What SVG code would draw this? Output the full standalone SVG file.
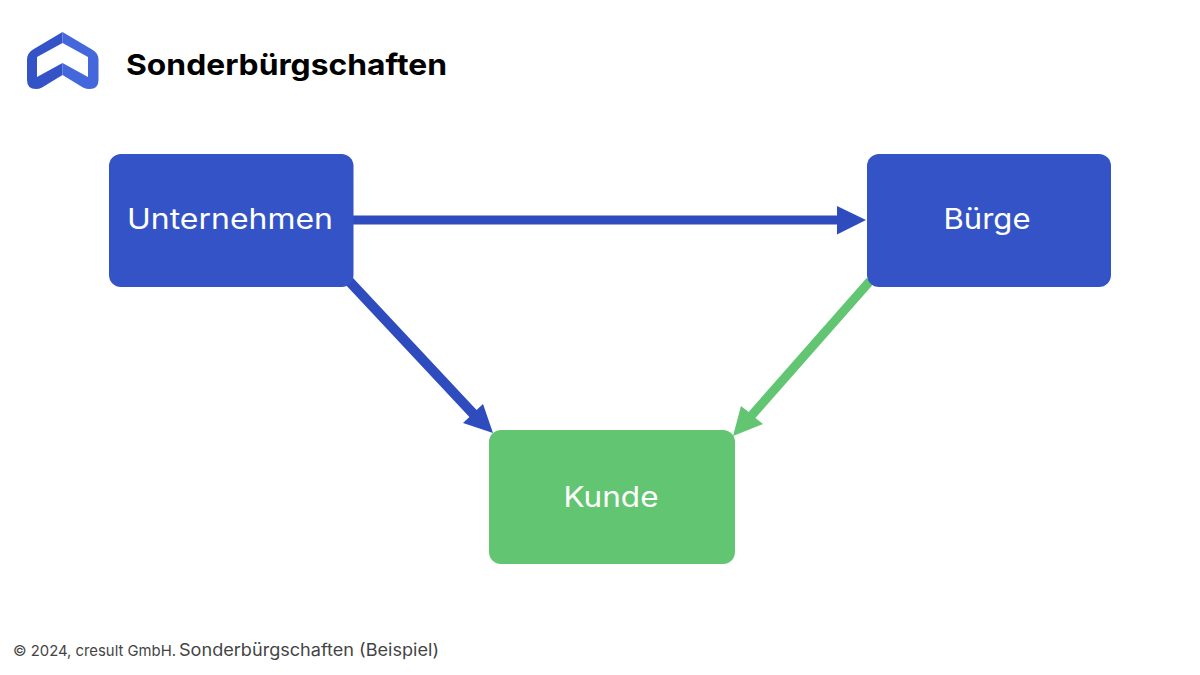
<svg xmlns="http://www.w3.org/2000/svg" width="1200" height="675" viewBox="0 0 1200 675">
<style>
text{font-family:"Inter","Liberation Sans",sans-serif}
.box-blue{fill:#3453C7}
.arrow-blue{fill:#2F4CBE}
.green{fill:#62C571}
.lbl{fill:#fff;font-size:28px;text-anchor:middle}
.foot{fill:#444;font-size:15px}
.foot2{fill:#444;font-size:17px}
</style>
<rect width="1200" height="675" fill="#fff"/>
<g id="logo">
<path d="M62.500 32L33 49.500Q27 53 27 60V80Q27 89 36 89Q39 89 42 87.500L62.500 75V63L37 77V57L62.500 43Z" fill="#3453C7"/>
<path d="M62.500 32L92 49.500Q98.500 53 98.500 60V80Q98.500 89 89.500 89Q86.500 89 83 87.500L62.500 75V63L88 77V57L62.500 43Z" fill="#4467DC"/>
</g>
<text id="title" x="126" y="75" font-size="29" font-weight="700" fill="#000" textLength="321" lengthAdjust="spacingAndGlyphs">Sonderbürgschaften</text>
<g id="connectors">
<path class="arrow-blue" d="M353 215.500H837V206L866 220L837 234.500V224.500H353Z"/>
<path class="arrow-blue" d="M352.600 277.600L476.600 410.100L483 404L493 433L463 423L469.400 416.900L345.400 284.400Z"/>
<path class="green" d="M866.600 278L873.400 284L755.400 418L763 424L733 436L741 406L748.600 412Z"/>
</g>
<g id="unternehmen">
<rect class="box-blue" x="109" y="154" width="244.500" height="133" rx="12"/>
<text class="lbl" x="230" y="229" textLength="206" lengthAdjust="spacingAndGlyphs">Unternehmen</text>
</g>
<g id="buerge">
<rect class="box-blue" x="867" y="154" width="244" height="133" rx="12"/>
<text class="lbl" x="987" y="229" textLength="87" lengthAdjust="spacingAndGlyphs">Bürge</text>
</g>
<g id="kunde">
<rect class="green" x="489" y="430" width="246" height="134" rx="12"/>
<text class="lbl" x="611" y="507" textLength="95" lengthAdjust="spacingAndGlyphs">Kunde</text>
</g>
<g id="footer">
<text class="foot" x="13" y="656" textLength="163" lengthAdjust="spacingAndGlyphs">© 2024, cresult GmbH.</text>
<text class="foot2" x="179" y="656" textLength="260" lengthAdjust="spacingAndGlyphs">Sonderbürgschaften (Beispiel)</text>
</g>
</svg>
